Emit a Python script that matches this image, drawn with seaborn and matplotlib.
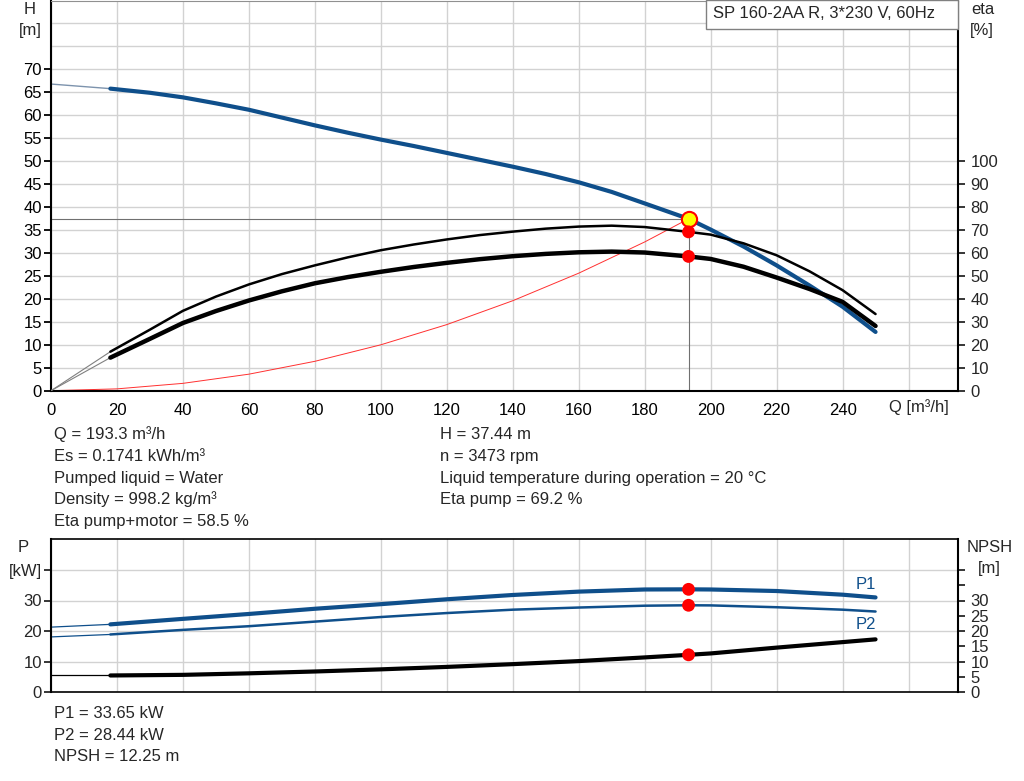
## curva pompa SP 160-2AA R: prevalenza, rendimento, potenze e NPSH
import numpy as np
import pandas as pd
import seaborn as sns
import matplotlib.pyplot as plt
from matplotlib.patches import Rectangle

# ---- dati ----
q_curve = [18, 30, 40, 50, 60, 70, 80, 90, 100, 110, 120, 130, 140, 150, 160, 170, 180, 193.3,
           200, 210, 220, 230, 240, 250]
h_curve = [65.8, 64.9, 63.9, 62.6, 61.2, 59.5, 57.8, 56.2, 54.7, 53.3, 51.8, 50.3, 48.8, 47.2,
           45.4, 43.3, 40.8, 37.44, 35.1, 31.4, 27.3, 22.9, 18.3, 12.8]
eta_pump = [17.0, 26.6, 34.8, 41.0, 46.3, 50.8, 54.6, 58.1, 61.2, 63.7, 65.9, 67.8, 69.3, 70.6,
            71.5, 71.9, 71.3, 69.2, 68.0, 64.2, 59.0, 52.0, 43.8, 33.4]
eta_tot = [14.4, 22.6, 29.5, 34.7, 39.3, 43.3, 46.8, 49.5, 51.8, 53.9, 55.7, 57.3, 58.6, 59.6,
           60.3, 60.6, 60.2, 58.5, 57.4, 54.0, 49.3, 44.3, 38.7, 28.2]

q_start = [0, 18]
h_start = [66.8, 65.8]
eta_pump_start = [0, 17.0]
eta_tot_start = [0, 14.4]

q_sys = [0, 20, 40, 60, 80, 100, 120, 140, 160, 180, 193.3]
h_sys = [0, 0.4, 1.6, 3.6, 6.4, 10.0, 14.4, 19.6, 25.6, 32.4, 37.44]

q_p = [18, 40, 60, 80, 100, 120, 140, 160, 180, 193.3, 200, 220, 240, 250]
p1 = [22.2, 24.0, 25.6, 27.3, 28.8, 30.4, 31.8, 32.9, 33.6, 33.65, 33.6, 33.1, 31.9, 31.0]
p2 = [18.9, 20.4, 21.6, 23.1, 24.6, 25.9, 27.0, 27.7, 28.3, 28.44, 28.4, 27.8, 27.0, 26.4]
npsh = [5.5, 5.7, 6.2, 6.8, 7.5, 8.3, 9.2, 10.2, 11.4, 12.25, 12.7, 14.6, 16.4, 17.3]
p1_start = [21.3, 22.2]
p2_start = [18.1, 18.9]
npsh_start = [5.5, 5.5]

q_op, h_op = 193.3, 37.44
eta_pump_op, eta_tot_op = 69.2, 58.5
p1_op, p2_op, npsh_op = 33.65, 28.44, 12.25

info_sx = ["Q = 193.3 m³/h", "Es = 0.1741 kWh/m³", "Pumped liquid = Water",
           "Density = 998.2 kg/m³", "Eta pump+motor = 58.5 %"]
info_dx = ["H = 37.44 m", "n = 3473 rpm", "Liquid temperature during operation = 20 °C",
           "Eta pump = 69.2 %"]
info_p = ["P1 = 33.65 kW", "P2 = 28.44 kW", "NPSH = 12.25 m"]

blu = "#0f4f8b"
grid_col = "#d2d2d2"
fs = 12

sns.set_style("white")
plt.rcParams['font.family'] = ['Liberation Sans', 'DejaVu Sans']
plt.rcParams['font.size'] = fs

W, H = 1024, 781
fig = plt.figure(figsize=(W / 100, H / 100), dpi=100)

def rect(x0, y0, x1, y1):
    return [x0 / W, 1 - y1 / H, (x1 - x0) / W, (y1 - y0) / H]

def ftxt(x, y, s, **kw):
    fig.text(x / W, 1 - y / H, s, fontsize=fs, **kw)

ax = fig.add_axes(rect(51, 0.5, 958, 390.7))
ax_eta = ax.twinx()
ax2 = fig.add_axes(rect(51, 539.3, 958, 692.3))
ax2n = ax2.twinx()

# ---------- grafico superiore ----------
sns.lineplot(x=q_start, y=h_start, ax=ax, color="#7d93ad", linewidth=1)
sns.lineplot(x=q_curve, y=h_curve, ax=ax, color=blu, linewidth=3)
sns.lineplot(x=q_sys, y=h_sys, ax=ax, color="#ff3030", linewidth=0.7)
ax.plot([0, q_op], [h_op, h_op], color="#707070", linewidth=0.8)
ax.plot([q_op, q_op], [0, h_op], color="#707070", linewidth=0.8)
sns.scatterplot(x=[q_op], y=[h_op], ax=ax, s=120, color="#ffff00",
                edgecolor="red", linewidth=1.5, zorder=6)

sns.lineplot(x=q_start, y=eta_pump_start, ax=ax_eta, color="#808080", linewidth=0.8)
sns.lineplot(x=q_start, y=eta_tot_start, ax=ax_eta, color="#808080", linewidth=0.8)
sns.lineplot(x=q_curve, y=eta_pump, ax=ax_eta, color="black", linewidth=1.8)
sns.lineplot(x=q_curve, y=eta_tot, ax=ax_eta, color="black", linewidth=3.2)
sns.scatterplot(x=[q_op, q_op], y=[eta_pump_op, eta_tot_op], ax=ax_eta, s=85,
                color="red", edgecolor="none", zorder=6)

ax.set_xlim(0, 275)
ax.set_ylim(0, 85)
ax_eta.set_ylim(0, 170)
ax.set_xticks(range(0, 261, 20))
ax.set_xticklabels([str(v) for v in range(0, 241, 20)] + [""])
ax.set_yticks(range(0, 71, 5))
ax.set_yticks([75, 80], minor=True)
ax.grid(True, which="both", color=grid_col, linewidth=1)
ax.tick_params(axis="y", which="minor", length=0)
ax.tick_params(axis="both", which="major", direction="out", length=5, width=1.3,
               labelsize=fs, colors="black")
ax.tick_params(axis="y", pad=1.5)
ax_eta.set_yticks(range(0, 101, 10))
ax_eta.tick_params(axis="y", direction="out", length=5, width=1.3, labelsize=fs, pad=4)
ax.set_xlabel("")
ax.set_ylabel("")
ax_eta.set_ylabel("")
for s in ["left", "bottom"]:
    ax.spines[s].set_color("black")
    ax.spines[s].set_linewidth(1.5)
ax.spines["top"].set_color("#909090")
ax.spines["right"].set_visible(False)
for s in ["left", "bottom", "top"]:
    ax_eta.spines[s].set_visible(False)
ax_eta.spines["right"].set_color("black")
ax_eta.spines["right"].set_linewidth(1.5)

ax_eta.add_patch(Rectangle(((706 - 51) / 907, 1 - 28 / 390.2), (958 - 706) / 907, 28 / 390.2,
                           transform=ax_eta.transAxes, facecolor="white",
                           edgecolor="#808080", linewidth=1, zorder=8, clip_on=False))
ftxt(713, 14, "SP 160-2AA R, 3*230 V, 60Hz", va="center", ha="left", zorder=9)

ftxt(30, 10, "H", ha="center", va="center")
ftxt(30, 30, "[m]", ha="center", va="center")
ftxt(983, 10, "eta", ha="center", va="center")
ftxt(982, 31, "[%]", ha="center", va="center")
ftxt(919, 407, "Q [m³/h]", ha="center", va="center")

for i, s in enumerate(info_sx):
    ftxt(54, 439 + i * 21.75, s, ha="left", va="baseline")
for i, s in enumerate(info_dx):
    ftxt(440, 439 + i * 21.75, s, ha="left", va="baseline")

# ---------- grafico inferiore ----------
sns.lineplot(x=q_start, y=p1_start, ax=ax2, color=blu, linewidth=0.9)
sns.lineplot(x=q_start, y=p2_start, ax=ax2, color=blu, linewidth=0.9)
sns.lineplot(x=q_p, y=p1, ax=ax2, color=blu, linewidth=3)
sns.lineplot(x=q_p, y=p2, ax=ax2, color=blu, linewidth=1.8)
sns.scatterplot(x=[q_op, q_op], y=[p1_op, p2_op], ax=ax2, s=85,
                color="red", edgecolor="none", zorder=6)
ax2.text(247, 35.3, "P1", color=blu, fontsize=fs, ha="center", va="center")
ax2.text(247, 22.2, "P2", color=blu, fontsize=fs, ha="center", va="center")

sns.lineplot(x=q_start, y=npsh_start, ax=ax2n, color="black", linewidth=0.9)
sns.lineplot(x=q_p, y=npsh, ax=ax2n, color="black", linewidth=3)
sns.scatterplot(x=[q_op], y=[npsh_op], ax=ax2n, s=85, color="red",
                edgecolor="none", zorder=6)

ax2.set_xlim(0, 275)
ax2.set_ylim(0, 50)
ax2n.set_ylim(0, 50)
ax2.set_xticks(range(0, 261, 20))
ax2.set_xticklabels([])
ax2.set_yticks([0, 10, 20, 30, 40])
ax2.set_yticklabels(["0", "10", "20", "30", "[kW]"])
ax2.grid(True, color=grid_col, linewidth=1)
ax2.tick_params(axis="x", length=0)
ax2.tick_params(axis="y", direction="out", length=5, width=1.3, labelsize=fs, pad=1.5)
ax2n.set_yticks(range(0, 41, 5))
ax2n.set_yticklabels([str(v) for v in range(0, 31, 5)] + ["", ""])
ax2n.tick_params(axis="y", direction="out", length=5, width=1.3, labelsize=fs, pad=4)
ax2.set_xlabel("")
ax2.set_ylabel("")
ax2n.set_ylabel("")
for s in ax2.spines.values():
    s.set_color("black")
    s.set_linewidth(1.2)
ax2.spines["left"].set_linewidth(1.5)
for s in ["left", "bottom", "top"]:
    ax2n.spines[s].set_visible(False)
ax2n.spines["right"].set_color("black")
ax2n.spines["right"].set_linewidth(1.5)

ftxt(23, 548, "P", ha="center", va="center")
ftxt(990, 548, "NPSH", ha="center", va="center")
ftxt(989, 569, "[m]", ha="center", va="center")

for i, s in enumerate(info_p):
    ftxt(54, 718.5 + i * 21.4, s, ha="left", va="baseline")

fig.savefig("out.png", dpi=100)
